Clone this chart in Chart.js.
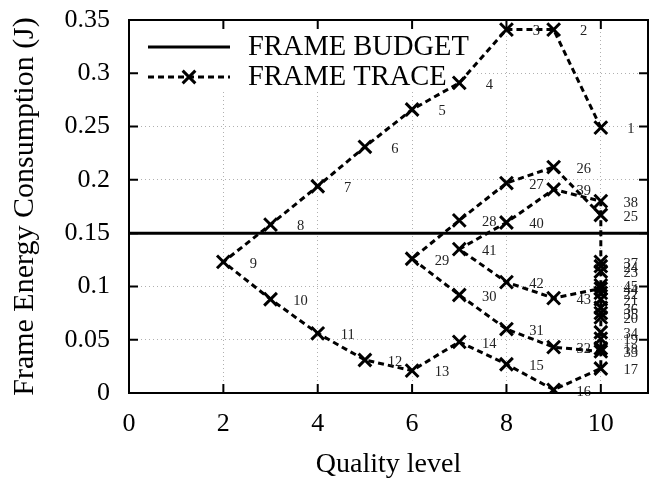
<!DOCTYPE html>
<html>
<head>
<meta charset="utf-8">
<script src="https://cdn.jsdelivr.net/npm/chart.js@4/dist/chart.umd.min.js"></script>
<style>
    html, body { margin: 0; padding: 0; background: #fff; }
</style>
</head>
<body>
<canvas id="chart" width="649" height="479"></canvas>
<script>
// frame trace, in visiting order (frame 1 .. 45)
const qualityLevel = [10, 9, 8, 7, 6, 5, 4, 3, 2, 3, 4, 5, 6, 7, 8, 9, 10, 10, 10, 10, 10, 10, 10, 10, 10,
    9, 8, 7, 6, 7, 8, 9, 10, 10, 10, 10, 10, 10, 9, 8, 7, 8, 9, 10, 10];
const frameEnergy = [0.249, 0.341, 0.341, 0.291, 0.266, 0.231, 0.194, 0.158, 0.123, 0.088, 0.056, 0.031,
    0.021, 0.048, 0.027, 0.003, 0.023, 0.042, 0.051, 0.071, 0.088, 0.094, 0.114, 0.119, 0.167,
    0.212, 0.197, 0.162, 0.126, 0.092, 0.060, 0.043, 0.039, 0.057, 0.075, 0.080, 0.123, 0.180,
    0.191, 0.160, 0.135, 0.104, 0.089, 0.098, 0.101];
const budgetQuality = [0, 11];
const budgetEnergy = [0.15, 0.15];
const xTicks = [0, 2, 4, 6, 8, 10];
const yTicks = [0, 0.05, 0.1, 0.15, 0.2, 0.25, 0.3, 0.35];
const seriesNames = ['FRAME BUDGET', 'FRAME TRACE'];

const serif = "'Liberation Serif', 'DejaVu Serif', serif";
const traceDash = [6, 4];

const toPoints = (xs, ys) => xs.map((x, i) => ({x: x, y: ys[i]}));

const noEdgePadding = s => {
    s.paddingLeft = 0;
    s.paddingRight = 0;
    s.paddingTop = 0;
    s.paddingBottom = 0;
};

const boxPlugin = {
    id: 'box',
    beforeDatasetsDraw(chart) {
        // legend, drawn inside the plot on a white patch
        const ctx = chart.ctx;
        const a = chart.chartArea;
        ctx.save();
        ctx.fillStyle = '#fff';
        ctx.fillRect(a.left + 2, a.top + 2, 346, 70);
        const rows = [a.top + 27, a.top + 57];
        chart.data.datasets.forEach((ds, i) => {
            const y = rows[i];
            ctx.strokeStyle = '#000';
            ctx.lineWidth = 3;
            ctx.setLineDash(ds.borderDash || []);
            ctx.beginPath();
            ctx.moveTo(148, y);
            ctx.lineTo(230, y);
            ctx.stroke();
            ctx.setLineDash([]);
            if (ds.pointRadius) {
                const d = ds.pointRadius * Math.SQRT1_2;
                ctx.beginPath();
                ctx.moveTo(189 - d, y - d);
                ctx.lineTo(189 + d, y + d);
                ctx.moveTo(189 - d, y + d);
                ctx.lineTo(189 + d, y - d);
                ctx.stroke();
            }
            ctx.fillStyle = '#000';
            ctx.font = '28.5px ' + serif;
            ctx.textAlign = 'left';
            ctx.textBaseline = 'middle';
            ctx.fillText(ds.label, 248, y + 1);
        });
        ctx.restore();
    },
    afterDraw(chart) {
        const ctx = chart.ctx;
        const a = chart.chartArea;
        const sx = chart.scales.x;
        const sy = chart.scales.y;
        ctx.save();

        // frame number next to each trace point
        const meta = chart.getDatasetMeta(1);
        ctx.fillStyle = '#222';
        ctx.font = '14.5px ' + serif;
        ctx.textAlign = 'center';
        ctx.textBaseline = 'middle';
        meta.data.forEach((pt, i) => {
            ctx.fillText(String(i + 1), pt.x + 30, pt.y + 2);
        });

        // frame and inward tick marks on all four sides
        ctx.setLineDash([]);
        ctx.strokeStyle = '#000';
        ctx.lineWidth = 2;
        ctx.beginPath();
        ctx.rect(a.left, a.top, a.right - a.left, a.bottom - a.top);
        xTicks.forEach(v => {
            const px = sx.getPixelForValue(v);
            ctx.moveTo(px, a.bottom);
            ctx.lineTo(px, a.bottom - 9);
            ctx.moveTo(px, a.top);
            ctx.lineTo(px, a.top + 9);
        });
        yTicks.forEach(v => {
            const py = sy.getPixelForValue(v);
            ctx.moveTo(a.left, py);
            ctx.lineTo(a.left + 9, py);
            ctx.moveTo(a.right, py);
            ctx.lineTo(a.right - 9, py);
        });
        ctx.stroke();
        ctx.restore();
    }
};

new Chart(document.getElementById('chart'), {
    type: 'scatter',
    data: {
        datasets: [
            {
                label: seriesNames[0],
                data: toPoints(budgetQuality, budgetEnergy),
                showLine: true,
                borderColor: '#000',
                borderWidth: 3,
                pointRadius: 0,
                pointHoverRadius: 0,
                order: 2
            },
            {
                label: seriesNames[1],
                data: toPoints(qualityLevel, frameEnergy),
                showLine: true,
                borderColor: '#000',
                backgroundColor: '#000',
                borderWidth: 3,
                borderDash: traceDash,
                pointStyle: 'crossRot',
                pointRadius: 9,
                pointBorderWidth: 3,
                pointBorderColor: '#000',
                pointHoverRadius: 9,
                order: 1
            }
        ]
    },
    options: {
        responsive: false,
        animation: false,
        devicePixelRatio: 1,
        layout: {
            autoPadding: false,
            padding: {top: 20, right: 1, left: 0, bottom: 0}
        },
        scales: {
            x: {
                type: 'linear',
                min: 0,
                max: 11,
                afterBuildTicks: s => { s.ticks = xTicks.map(v => ({value: v})); },
                afterFit: s => { s.height = 86; noEdgePadding(s); },
                grid: {color: '#b0b0b0', lineWidth: 1, drawTicks: false},
                border: {display: false, dash: [1, 3]},
                ticks: {
                    color: '#000',
                    font: {family: serif, size: 26},
                    padding: 16,
                    maxRotation: 0,
                    autoSkip: false
                },
                title: {
                    display: true,
                    text: 'Quality level',
                    color: '#000',
                    font: {family: serif, size: 28, lineHeight: 1},
                    padding: {top: 0, bottom: 0}
                }
            },
            y: {
                type: 'linear',
                min: 0,
                max: 0.35,
                afterBuildTicks: s => { s.ticks = yTicks.map(v => ({value: v})); },
                afterFit: s => { s.width = 129; noEdgePadding(s); },
                grid: {color: '#b0b0b0', lineWidth: 1, drawTicks: false},
                border: {display: false, dash: [1, 3]},
                ticks: {
                    color: '#000',
                    font: {family: serif, size: 26},
                    padding: 19,
                    autoSkip: false,
                    callback: v => String(v)
                },
                title: {
                    display: true,
                    text: 'Frame Energy Consumption (J)',
                    color: '#000',
                    font: {family: serif, size: 30, lineHeight: 1.2},
                    padding: {top: 7, bottom: 0}
                }
            }
        },
        plugins: {
            legend: {display: false},
            tooltip: {enabled: false}
        }
    },
    plugins: [boxPlugin]
});
</script>
</body>
</html>
